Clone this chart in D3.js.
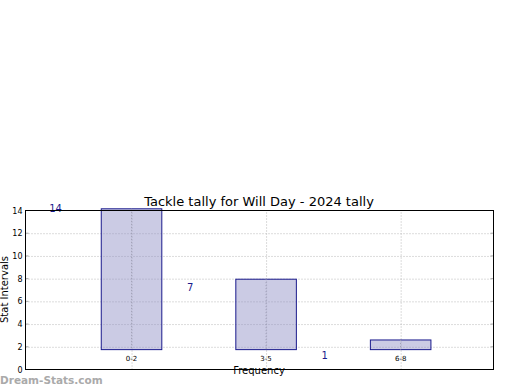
<!DOCTYPE html>
<html>
<head>
<meta charset="utf-8">
<script src="https://cdn.jsdelivr.net/npm/d3@7"></script>
<style>
  body { margin: 0; background: #fff; }
  svg { display: block; font-family: "DejaVu Sans", sans-serif; }
</style>
</head>
<body>
<svg id="chart" width="520" height="390"></svg>
<script>
// Data
const categories = ["0-2", "3-5", "6-8"]
const counts = [14, 7, 1]              // annotation labels
const barTops = [14.15, 7.95, 2.6]     // bar top values
const barBase = 1.75                   // bars start here, not at 0
const yTicks = [0, 2, 4, 6, 8, 10, 12, 14]

const svg = d3.select("#chart")
const margin = { left: 25, top: 210, right: 27, bottom: 21 }
const width = 520, height = 390
const innerWidth = width - margin.left - margin.right
const innerHeight = height - margin.top - margin.bottom

const chart = svg.append("g")
  .attr("transform", `translate(${margin.left + 0.5},${margin.top + 0.5})`)

// Scales
const x = d3.scaleLinear()
  .domain([-0.788, 2.69])
  .range([0, innerWidth])

const y = d3.scaleLinear()
  .domain([0, 14])
  .range([innerHeight, 0])

const barWidth = x(0.45) - x(0)

// Grid lines (dotted)
chart.append("g")
  .attr("class", "grid")
  .call(d3.axisLeft(y).tickValues(yTicks.slice(1, -1)).tickSize(-innerWidth).tickFormat(""))
  .call(g => g.select(".domain").remove())
  .selectAll("line")
  .style("stroke", "#b8b8b8")
  .style("stroke-dasharray", "1,2")

chart.append("g")
  .attr("class", "grid")
  .attr("transform", `translate(0,${innerHeight})`)
  .call(d3.axisBottom(x).tickValues(d3.range(categories.length)).tickSize(-innerHeight).tickFormat(""))
  .call(g => g.select(".domain").remove())
  .selectAll("line")
  .style("stroke", "#b8b8b8")
  .style("stroke-dasharray", "1,2")

// Bars
chart.selectAll(".bar")
  .data(barTops)
  .enter()
  .append("rect")
  .attr("class", "bar")
  .attr("x", (d, i) => x(i) - barWidth / 2)
  .attr("width", barWidth)
  .attr("y", d => y(d))
  .attr("height", d => y(barBase) - y(d))
  .attr("fill", "rgba(140,140,195,0.45)")
  .attr("stroke", "#1a1a8c")
  .attr("stroke-width", 1)

// Vertical grid shows through the bars
chart.selectAll(".bargrid")
  .data(barTops)
  .enter()
  .append("line")
  .attr("x1", (d, i) => x(i)).attr("x2", (d, i) => x(i))
  .attr("y1", d => y(d)).attr("y2", y(barBase))
  .style("stroke", "#9a9ab0")
  .style("stroke-dasharray", "1,2")

// X tick labels sit under bar base
chart.selectAll(".xlabel")
  .data(categories)
  .enter()
  .append("text")
  .attr("class", "xlabel")
  .attr("x", (d, i) => x(i))
  .attr("y", y(barBase) + 11)
  .attr("text-anchor", "middle")
  .style("font-size", "7px")
  .style("fill", "#000")
  .text(d => d)

// Count annotations
chart.selectAll(".count")
  .data(counts)
  .enter()
  .append("text")
  .attr("class", "count")
  .attr("x", (d, i) => x(i - 0.565))
  .attr("y", d => y(d) + 1)
  .attr("text-anchor", "middle")
  .style("font-size", "10px")
  .style("fill", "#1a1a8c")
  .text(d => d)

// Y axis tick labels and small tick marks
const yAxis = chart.append("g")
  .call(d3.axisLeft(y).tickValues(yTicks).tickSize(0).tickPadding(3))
yAxis.select(".domain").remove()
yAxis.selectAll("text").style("font-size", "8px").style("fill", "#000").style("font-family", "DejaVu Sans")

chart.selectAll(".ytick-l")
  .data(yTicks)
  .enter()
  .append("line")
  .attr("x1", 0).attr("x2", 3)
  .attr("y1", d => y(d)).attr("y2", d => y(d))
  .style("stroke", "#aaa")

chart.selectAll(".ytick-r")
  .data(yTicks)
  .enter()
  .append("line")
  .attr("x1", innerWidth - 3).attr("x2", innerWidth)
  .attr("y1", d => y(d)).attr("y2", d => y(d))
  .style("stroke", "#aaa")

// Frame
chart.append("rect")
  .attr("x", 0).attr("y", 0)
  .attr("width", innerWidth).attr("height", innerHeight)
  .attr("fill", "none")
  .attr("stroke", "#000")
  .attr("stroke-width", 1)

// Title
svg.append("text")
  .attr("x", margin.left + innerWidth / 2)
  .attr("y", 206)
  .attr("text-anchor", "middle")
  .style("font-size", "13px")
  .style("fill", "#000")
  .text("Tackle tally for Will Day - 2024 tally")

// Axis labels
svg.append("text")
  .attr("x", 259)
  .attr("y", 374)
  .attr("text-anchor", "middle")
  .style("font-size", "10px")
  .style("fill", "#000")
  .text("Frequency")

svg.append("text")
  .attr("transform", `translate(8,${margin.top + innerHeight / 2}) rotate(-90)`)
  .attr("text-anchor", "middle")
  .style("font-size", "10px")
  .style("fill", "#000")
  .text("Stat Intervals")

// Watermark
svg.append("text")
  .attr("x", 0)
  .attr("y", 384)
  .style("font-size", "10.5px")
  .style("font-weight", "bold")
  .style("fill", "#aaa")
  .text("Dream-Stats.com")
</script>
</body>
</html>
